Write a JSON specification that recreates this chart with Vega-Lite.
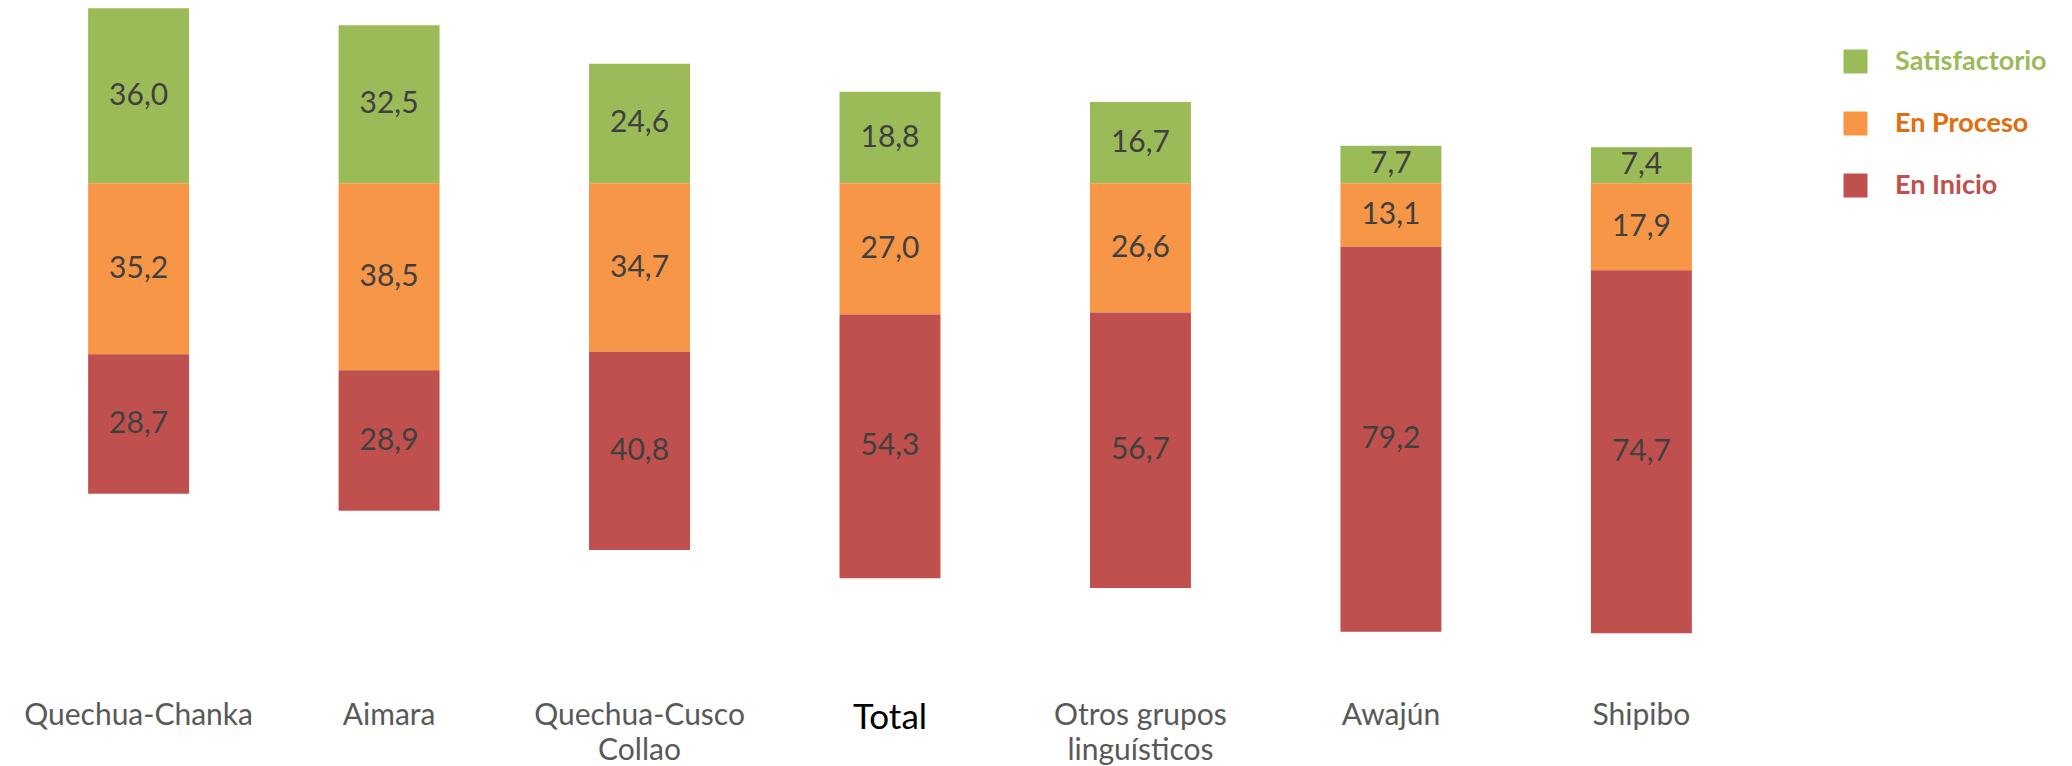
{
  "$schema": "https://vega.github.io/schema/vega-lite/v6.json",
  "width": 1754,
  "height": 640,
  "autosize": {"type": "none"},
  "padding": {"left": 13, "top": 0, "right": 305, "bottom": 126},
  "background": "white",
  "config": {"view": {"stroke": null}, "font": "Lato"},
  "data": {
    "values": [
      {"grupo": "Quechua-Chanka", "nivel": "Satisfactorio", "orden": 1, "pct": 36.0},
      {"grupo": "Quechua-Chanka", "nivel": "En Proceso", "orden": 2, "pct": 35.2},
      {"grupo": "Quechua-Chanka", "nivel": "En Inicio", "orden": 3, "pct": 28.7},
      {"grupo": "Aimara", "nivel": "Satisfactorio", "orden": 1, "pct": 32.5},
      {"grupo": "Aimara", "nivel": "En Proceso", "orden": 2, "pct": 38.5},
      {"grupo": "Aimara", "nivel": "En Inicio", "orden": 3, "pct": 28.9},
      {"grupo": "Quechua-Cusco Collao", "nivel": "Satisfactorio", "orden": 1, "pct": 24.6},
      {"grupo": "Quechua-Cusco Collao", "nivel": "En Proceso", "orden": 2, "pct": 34.7},
      {"grupo": "Quechua-Cusco Collao", "nivel": "En Inicio", "orden": 3, "pct": 40.8},
      {"grupo": "Total", "nivel": "Satisfactorio", "orden": 1, "pct": 18.8},
      {"grupo": "Total", "nivel": "En Proceso", "orden": 2, "pct": 27.0},
      {"grupo": "Total", "nivel": "En Inicio", "orden": 3, "pct": 54.3},
      {"grupo": "Otros grupos linguísticos", "nivel": "Satisfactorio", "orden": 1, "pct": 16.7},
      {"grupo": "Otros grupos linguísticos", "nivel": "En Proceso", "orden": 2, "pct": 26.6},
      {"grupo": "Otros grupos linguísticos", "nivel": "En Inicio", "orden": 3, "pct": 56.7},
      {"grupo": "Awajún", "nivel": "Satisfactorio", "orden": 1, "pct": 7.7},
      {"grupo": "Awajún", "nivel": "En Proceso", "orden": 2, "pct": 13.1},
      {"grupo": "Awajún", "nivel": "En Inicio", "orden": 3, "pct": 79.2},
      {"grupo": "Shipibo", "nivel": "Satisfactorio", "orden": 1, "pct": 7.4},
      {"grupo": "Shipibo", "nivel": "En Proceso", "orden": 2, "pct": 17.9},
      {"grupo": "Shipibo", "nivel": "En Inicio", "orden": 3, "pct": 74.7}
    ]
  },
  "transform": [
    {"calculate": "datum.nivel === 'Satisfactorio' ? datum.pct : -datum.pct", "as": "v"},
    {"stack": "v", "groupby": ["grupo"], "sort": [{"field": "orden", "order": "ascending"}], "as": ["v0", "v1"], "offset": "zero"},
    {"calculate": "(datum.v0 + datum.v1) / 2", "as": "vmid"},
    {"calculate": "replace(format(datum.pct, '.1f'), '.', ',')", "as": "etiqueta"}
  ],
  "encoding": {
    "x": {
      "field": "grupo",
      "type": "nominal",
      "sort": ["Quechua-Chanka", "Aimara", "Quechua-Cusco Collao", "Total", "Otros grupos linguísticos", "Awajún", "Shipibo"],
      "scale": {"paddingInner": 0.597, "paddingOuter": 0.3},
      "axis": {
        "title": null,
        "orient": "bottom",
        "domain": false,
        "ticks": false,
        "labelAngle": 0,
        "labelPadding": 60,
        "labelLimit": 400,
        "labelFont": "Lato",
        "labelFontSize": {"condition": {"test": "datum.value === 'Total'", "value": 35}, "value": 30},
        "labelColor": {"condition": {"test": "datum.value === 'Total'", "value": "#000000"}, "value": "#595959"},
        "labelLineHeight": 35,
        "labelBaseline": "top",
        "labelExpr": "datum.label === 'Quechua-Cusco Collao' ? ['Quechua-Cusco', 'Collao'] : datum.label === 'Otros grupos linguísticos' ? ['Otros grupos', 'linguísticos'] : datum.label"
      }
    }
  },
  "layer": [
    {
      "mark": {"type": "bar"},
      "encoding": {
        "y": {"field": "v0", "type": "quantitative", "scale": {"domain": [-94, 37.7], "nice": false, "zero": false}, "axis": null},
        "y2": {"field": "v1"},
        "color": {
          "field": "nivel",
          "type": "nominal",
          "sort": ["Satisfactorio", "En Proceso", "En Inicio"],
          "scale": {"domain": ["Satisfactorio", "En Proceso", "En Inicio"], "range": ["#9BBB59", "#F79646", "#C0504D"]},
          "legend": {
            "title": null,
            "orient": "none",
            "legendX": 1829,
            "legendY": 48,
            "padding": 0,
            "symbolType": "square",
            "symbolSize": 576,
            "symbolStrokeWidth": 0,
            "symbolOpacity": 1,
            "labelFont": "Lato",
            "labelFontSize": 27,
            "labelFontWeight": "bold",
            "labelOffset": 26,
            "rowPadding": 34,
            "labelLimit": 300,
            "labelColor": {"expr": "datum.label === 'Satisfactorio' ? '#9BBB59' : datum.label === 'En Proceso' ? '#E46C0A' : '#C0504D'"}
          }
        }
      }
    },
    {
      "mark": {"type": "text", "font": "Lato", "fontSize": 30, "color": "#404040", "baseline": "middle", "align": "center"},
      "encoding": {
        "y": {"field": "vmid", "type": "quantitative"},
        "text": {"field": "etiqueta", "type": "nominal"}
      }
    },
    {
      "mark": {"type": "rule", "color": "#000000", "strokeWidth": 2},
      "encoding": {"y": {"datum": 0, "type": "quantitative"}}
    }
  ]
}
